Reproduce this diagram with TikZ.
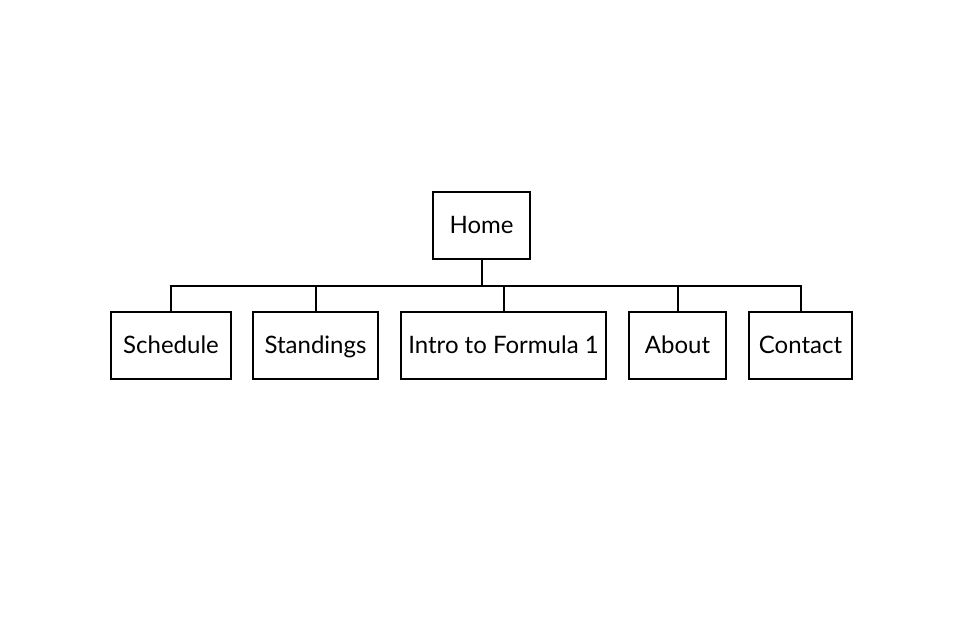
\documentclass[tikz,border=0pt]{standalone}
\usepackage{fontspec}
\setmainfont{Lato}
\begin{document}
\begin{tikzpicture}[x=0.5pt, y=-0.5pt,
    page/.style={draw, line width=1pt, minimum height=33.5pt, inner sep=0pt,
                 text height=10pt, text depth=2.2pt,
                 font=\fontsize{12}{14}\selectfont},
    link/.style={line width=1pt}]
    % Canvas
    \useasboundingbox (0,0) rectangle (977,623);

    % Top page
    \node[page, minimum width=48.5pt] (home) at (481.5,225.5) {Home};

    % Sub pages
    \node[page, minimum width=60pt]    (schedule)  at (171,345.5)   {Schedule};
    \node[page, minimum width=62.5pt]  (standings) at (315.5,345.5) {Standings};
    \node[page, minimum width=102.5pt] (intro)     at (503.5,345.5) {Intro to Formula 1};
    \node[page, minimum width=48.5pt]  (about)     at (677.5,345.5) {About};
    \node[page, minimum width=51.5pt]  (contact)   at (800.5,345.5) {Contact};

    % Bus line
    \coordinate (bus) at (481.5,286);
    \draw[link] (home.south) -- (home.south |- bus);
    \draw[link] (schedule.north) |- (contact.north |- bus) -- (contact.north);
    \draw[link] (standings.north) -- (standings.north |- bus);
    \draw[link] (intro.north) -- (intro.north |- bus);
    \draw[link] (about.north) -- (about.north |- bus);
\end{tikzpicture}
\end{document}
